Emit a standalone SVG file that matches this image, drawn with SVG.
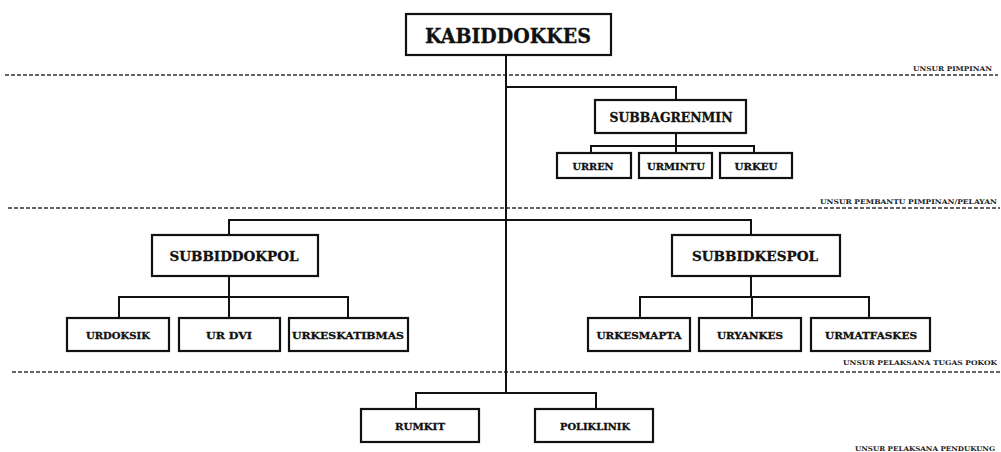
<svg xmlns="http://www.w3.org/2000/svg" width="1001" height="452" viewBox="0 0 1001 452">
<style>
.box{fill:#fff;stroke:#111;stroke-width:2.2}
.t{font-family:"DejaVu Serif","Liberation Serif",serif;font-weight:bold;fill:#111;stroke:#111;stroke-width:0.3;text-anchor:middle;dominant-baseline:central}
.lbl{font-family:"DejaVu Serif","Liberation Serif",serif;font-weight:bold;fill:#222;font-size:6.5px}
.dash{stroke:#333;stroke-width:1.3;stroke-dasharray:4 2;fill:none}
.c{stroke:#111;stroke-width:2;fill:none}
</style>
<rect width="1001" height="452" fill="#fff"/>
<g id="separators">
<line class="dash" x1="5" y1="75" x2="998" y2="75"/>
<line class="dash" x1="8" y1="208" x2="1000" y2="208"/>
<line class="dash" x1="12" y1="372" x2="1000" y2="372"/>
<text class="lbl" x="913" y="71" textLength="79" lengthAdjust="spacingAndGlyphs">UNSUR PIMPINAN</text>
<text class="lbl" x="820" y="204" textLength="177" lengthAdjust="spacingAndGlyphs">UNSUR  PEMBANTU PIMPINAN/PELAYAN</text>
<text class="lbl" x="843" y="365" textLength="154" lengthAdjust="spacingAndGlyphs">UNSUR PELAKSANA TUGAS POKOK</text>
<text class="lbl" x="855" y="451" textLength="140" lengthAdjust="spacingAndGlyphs">UNSUR PELAKSANA PENDUKUNG</text>
</g>
<g id="connectors">
<path class="c" d="M506 55V393"/>
<path class="c" d="M506 87H676V100"/>
<path class="c" d="M676 133V146M591 153V146H754V153M676 146V153"/>
<path class="c" d="M229 235V220H751V235"/>
<path class="c" d="M229 276V318M119 318V297H348V318"/>
<path class="c" d="M751 276V297M640 318V297H869V318M752 297V318"/>
<path class="c" d="M416 409V393H596V409"/>
</g>
<g id="kabiddokkes"><rect class="box" x="406" y="14" width="205" height="41"/><text class="t" x="508" y="36" font-size="20" textLength="166" lengthAdjust="spacingAndGlyphs">KABIDDOKKES</text></g>
<g id="subbagrenmin"><rect class="box" x="595" y="100" width="151" height="33"/><text class="t" x="671" y="118" font-size="12" textLength="123" lengthAdjust="spacingAndGlyphs">SUBBAGRENMIN</text></g>
<g id="urren"><rect class="box" x="557" y="153" width="74" height="25"/><text class="t" x="593" y="166" font-size="9.5" textLength="41" lengthAdjust="spacingAndGlyphs">URREN</text></g>
<g id="urmintu"><rect class="box" x="639" y="153" width="73" height="25"/><text class="t" x="676" y="166" font-size="9.5" textLength="58" lengthAdjust="spacingAndGlyphs">URMINTU</text></g>
<g id="urkeu"><rect class="box" x="720" y="153" width="72" height="25"/><text class="t" x="756" y="166" font-size="9.5" textLength="43" lengthAdjust="spacingAndGlyphs">URKEU</text></g>
<g id="subbiddokpol"><rect class="box" x="152" y="235" width="166" height="41"/><text class="t" x="234" y="256" font-size="13" textLength="129" lengthAdjust="spacingAndGlyphs">SUBBIDDOKPOL</text></g>
<g id="subbidkespol"><rect class="box" x="672" y="235" width="168" height="41"/><text class="t" x="755" y="256" font-size="13" textLength="126" lengthAdjust="spacingAndGlyphs">SUBBIDKESPOL</text></g>
<g id="urdoksik"><rect class="box" x="67" y="318" width="102" height="33"/><text class="t" x="118" y="335" font-size="9.5" textLength="64" lengthAdjust="spacingAndGlyphs">URDOKSIK</text></g>
<g id="urdvi"><rect class="box" x="179" y="318" width="101" height="33"/><text class="t" x="229" y="335" font-size="9.5" textLength="46" lengthAdjust="spacingAndGlyphs">UR DVI</text></g>
<g id="urkeskatibmas"><rect class="box" x="289" y="318" width="119" height="33"/><text class="t" x="348" y="335" font-size="9.5" textLength="112" lengthAdjust="spacingAndGlyphs">URKESKATIBMAS</text></g>
<g id="urkesmapta"><rect class="box" x="588" y="318" width="102" height="33"/><text class="t" x="639" y="335" font-size="9.5" textLength="85" lengthAdjust="spacingAndGlyphs">URKESMAPTA</text></g>
<g id="uryankes"><rect class="box" x="699" y="318" width="102" height="33"/><text class="t" x="750" y="335" font-size="9.5" textLength="66" lengthAdjust="spacingAndGlyphs">URYANKES</text></g>
<g id="urmatfaskes"><rect class="box" x="811" y="318" width="119" height="33"/><text class="t" x="871" y="335" font-size="9.5" textLength="92" lengthAdjust="spacingAndGlyphs">URMATFASKES</text></g>
<g id="rumkit"><rect class="box" x="361" y="409" width="118" height="33"/><text class="t" x="420" y="426" font-size="9.5" textLength="50" lengthAdjust="spacingAndGlyphs">RUMKIT</text></g>
<g id="poliklinik"><rect class="box" x="535" y="409" width="118" height="33"/><text class="t" x="595" y="426" font-size="9.5" textLength="70" lengthAdjust="spacingAndGlyphs">POLIKLINIK</text></g>
</svg>
